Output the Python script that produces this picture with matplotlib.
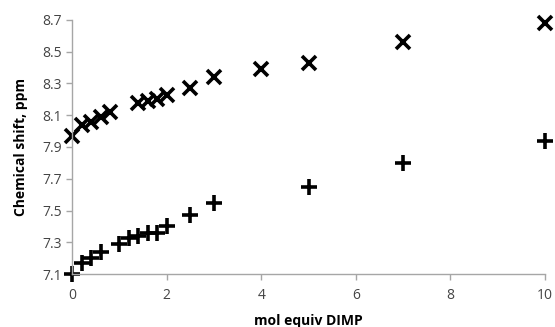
import matplotlib
matplotlib.use("Agg")
import matplotlib.pyplot as plt

plt.rcParams['font.family'] = ['Open Sans', 'DejaVu Sans']

# upper series (x markers)
eq_up = [0, 0.2, 0.4, 0.6, 0.8, 1.4, 1.6, 1.8, 2.0, 2.5, 3.0, 4.0, 5.0, 7.0, 10.0]
shift_up = [7.97, 8.04, 8.06, 8.09, 8.12, 8.18, 8.19, 8.20, 8.23, 8.27, 8.34, 8.39, 8.43, 8.56, 8.68]

# lower series (+ markers)
eq_lo = [0, 0.2, 0.4, 0.6, 1.0, 1.2, 1.4, 1.6, 1.8, 2.0, 2.5, 3.0, 5.0, 7.0, 10.0]
shift_lo = [7.10, 7.17, 7.20, 7.24, 7.29, 7.33, 7.34, 7.36, 7.36, 7.40, 7.47, 7.55, 7.65, 7.80, 7.94]

xticks = [0, 2, 4, 6, 8, 10]
yticks = [7.1, 7.3, 7.5, 7.7, 7.9, 8.1, 8.3, 8.5, 8.7]

fig = plt.figure(figsize=(5.55, 3.27), dpi=100)
ax = fig.add_axes([0.13, 0.162, 0.852, 0.777])

ax.plot(eq_up, shift_up, ls='none', marker='x', ms=10, mew=2.6, color='black', clip_on=False)
ax.plot(eq_lo, shift_lo, ls='none', marker='+', ms=11, mew=2.6, color='black', clip_on=False)

ax.set_xlim(0, 10)
ax.set_ylim(7.1, 8.7)
ax.set_xticks(xticks)
ax.set_yticks(yticks)
ax.set_yticklabels([f"{v:.1f}" for v in yticks])

for s in ['top', 'right']:
    ax.spines[s].set_visible(False)
for s in ['left', 'bottom']:
    ax.spines[s].set_color('#a6a6a6')
    ax.spines[s].set_linewidth(1)
ax.tick_params(colors='#a6a6a6', labelcolor='#444444', labelsize=10, length=4, width=1)
ax.tick_params(axis='x', pad=6)

ax.set_xlabel('mol equiv DIMP', fontsize=10, fontweight='bold', labelpad=8)
ax.set_ylabel('Chemical shift, ppm', fontsize=10, fontweight='bold', labelpad=10)

fig.savefig('out.png', dpi=100)
